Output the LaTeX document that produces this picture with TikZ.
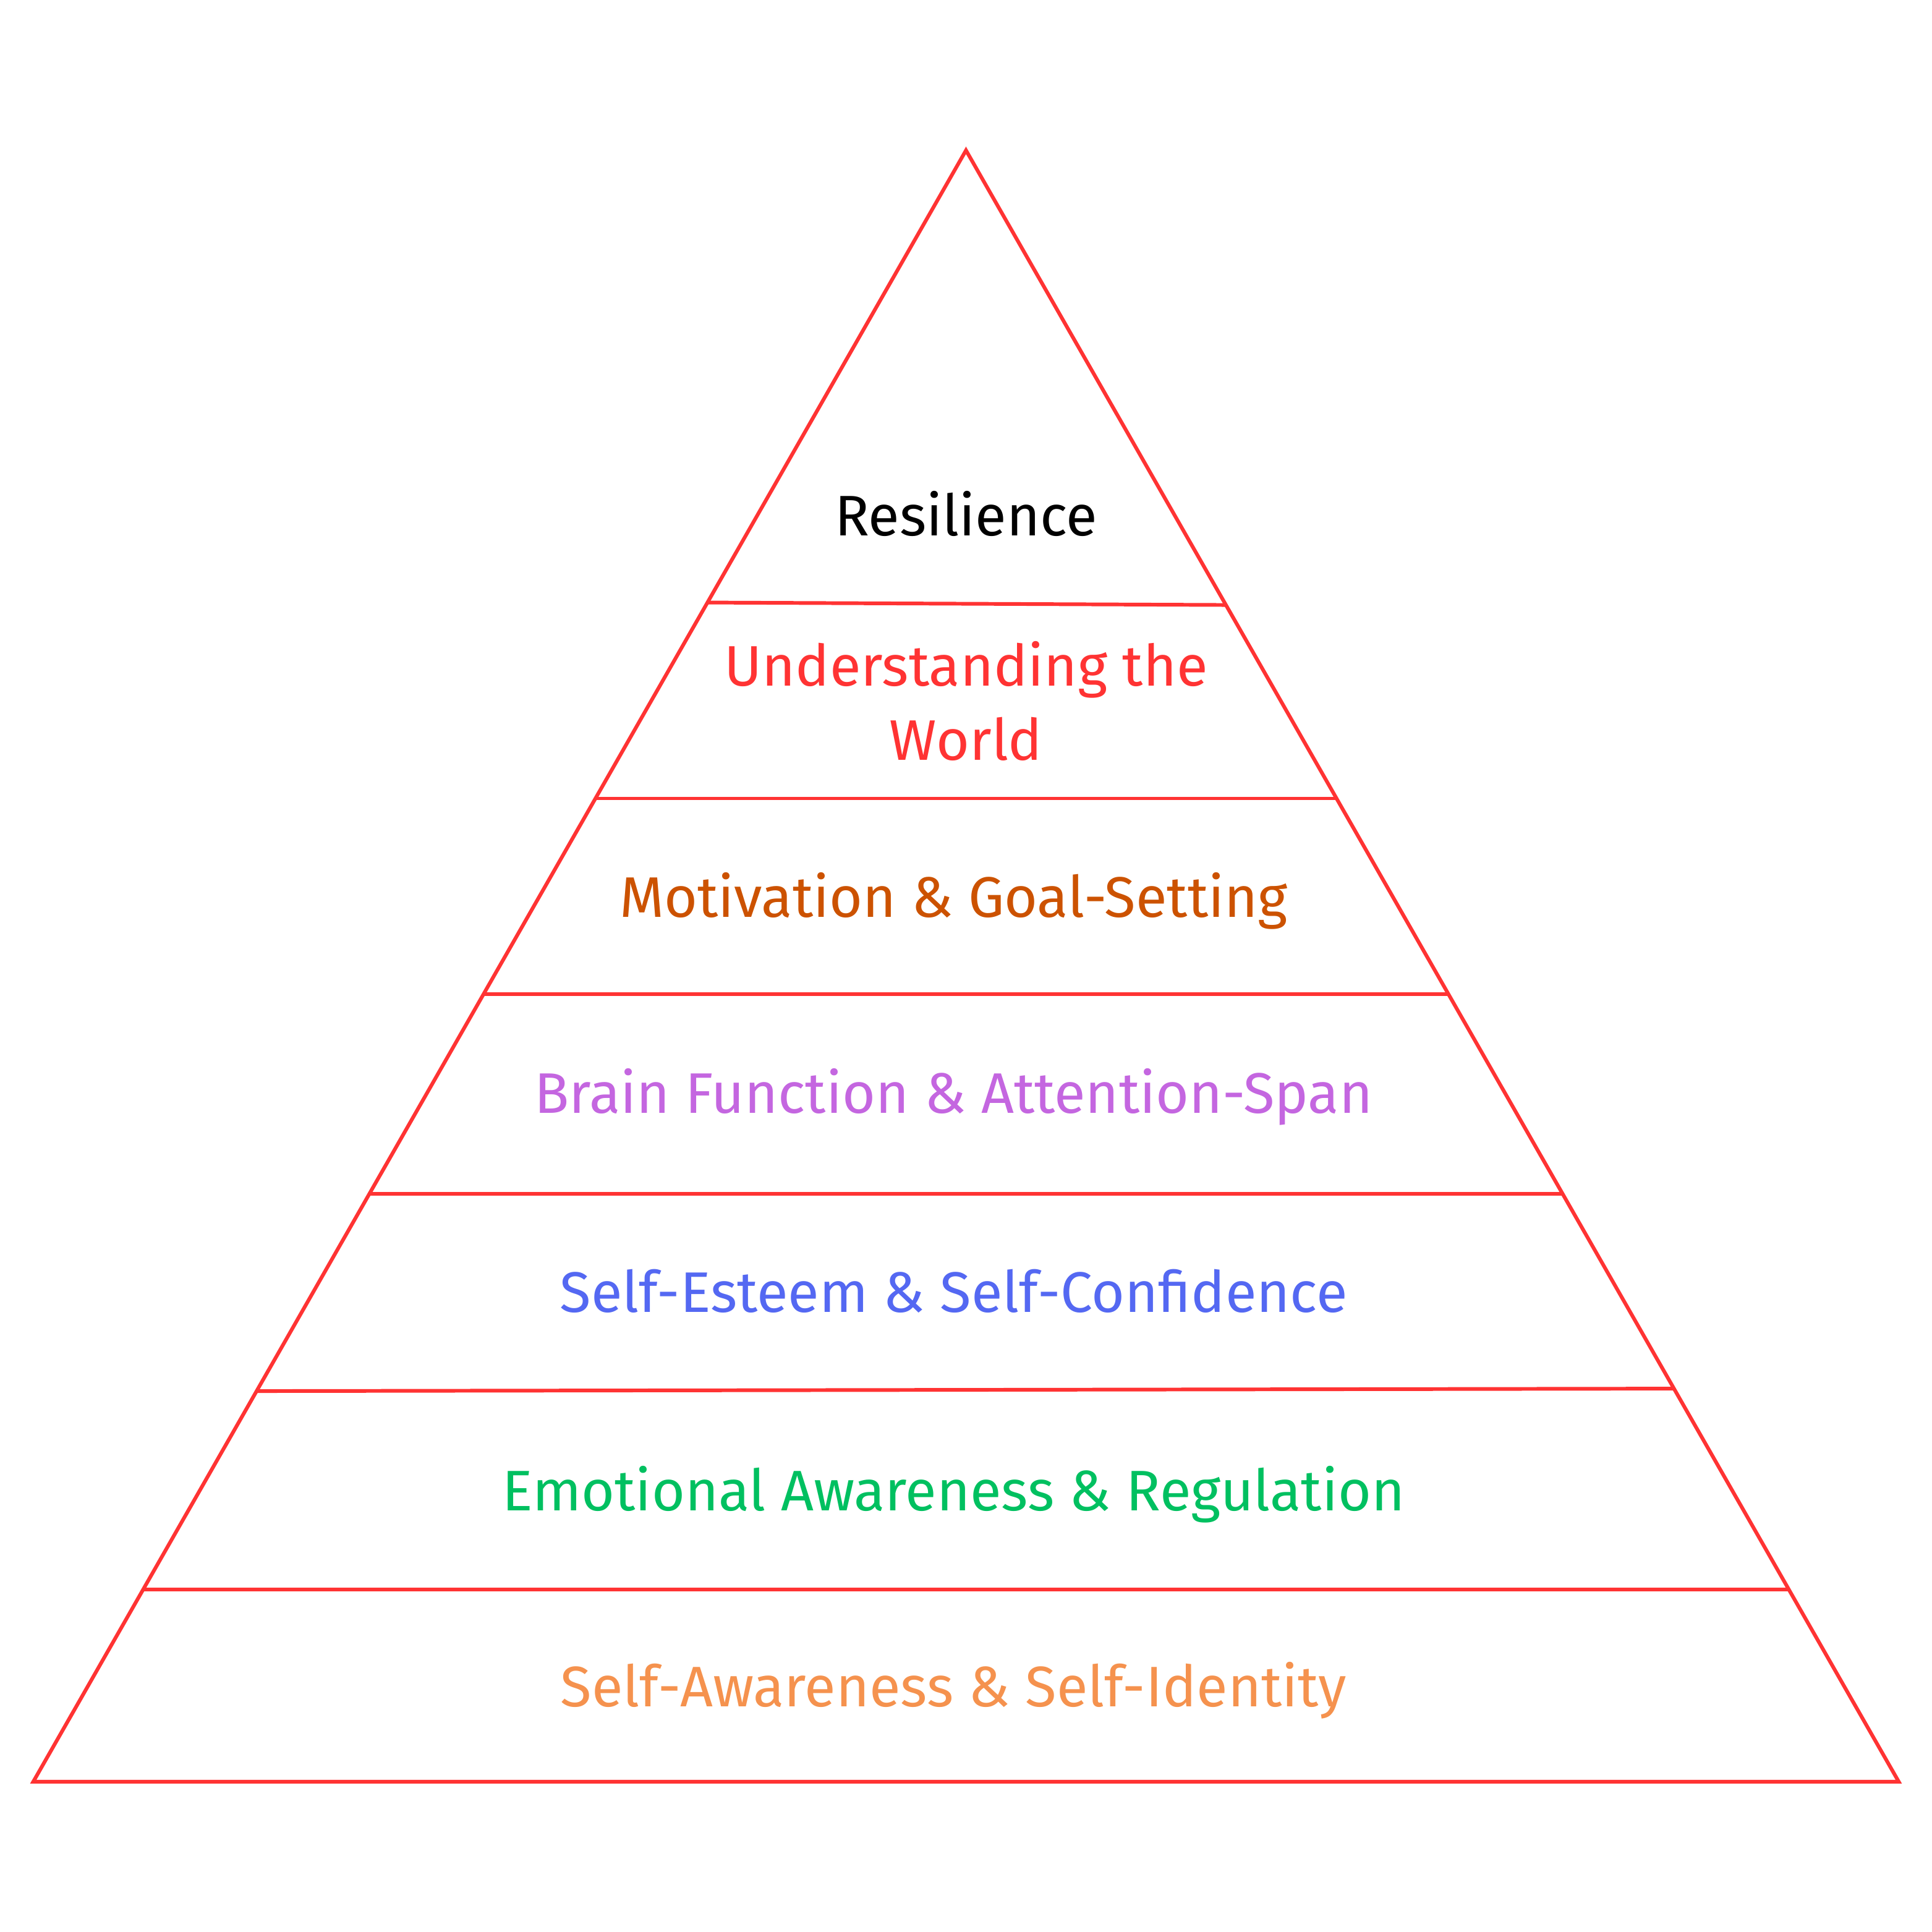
\documentclass[tikz,border=0pt]{standalone}
\usepackage{fontspec}
\setmainfont{Fira Sans}
\usetikzlibrary{calc}
\definecolor{pyred}{HTML}{FF3333}
\definecolor{cmot}{HTML}{CC5200}
\definecolor{cbrain}{HTML}{C466E0}
\definecolor{cself}{HTML}{5468F2}
\definecolor{cemo}{HTML}{00C060}
\definecolor{cid}{HTML}{F5924E}
\tikzset{
  edge/.style={draw=pyred, line width=0.85pt, line join=miter},
  lbl/.style={font=\fontsize{13.2}{17.07}\selectfont, align=center, inner sep=0pt}
}
\begin{document}
\begin{tikzpicture}[x=0.01cm,y=-0.01cm]
\useasboundingbox (0,0) rectangle (1568,1568);
\coordinate (A) at (784,122);
\coordinate (L) at (27,1446);
\coordinate (R) at (1541,1446);
\draw[edge] (A) -- (L) -- (R) -- cycle;
\coordinate (l1) at ($(A)!{367/1324}!(L)$);
\coordinate (r1) at ($(A)!{369/1324}!(R)$);
\coordinate (l2) at ($(A)!{526/1324}!(L)$);
\coordinate (r2) at ($(A)!{526/1324}!(R)$);
\coordinate (l3) at ($(A)!{685/1324}!(L)$);
\coordinate (r3) at ($(A)!{685/1324}!(R)$);
\coordinate (l4) at ($(A)!{847/1324}!(L)$);
\coordinate (r4) at ($(A)!{847/1324}!(R)$);
\coordinate (l5) at ($(A)!{1007/1324}!(L)$);
\coordinate (r5) at ($(A)!{1005/1324}!(R)$);
\coordinate (l6) at ($(A)!{1168/1324}!(L)$);
\coordinate (r6) at ($(A)!{1168/1324}!(R)$);
\draw[edge] (l1) -- (r1);
\draw[edge] (l2) -- (r2);
\draw[edge] (l3) -- (r3);
\draw[edge] (l4) -- (r4);
\draw[edge] (l5) -- (r5);
\draw[edge] (l6) -- (r6);
\node[lbl, text=black] (t1) at (784,417) {Resilience};
\node[lbl, text=pyred] (t2) at (784,569) {Understanding the\\World};
\node[lbl, text=cmot] (t3) at (774,731) {Motivation \& Goal-Setting};
\node[lbl, text=cbrain] (t4) at (774,890) {Brain Function \& Attention-Span};
\node[lbl, text=cself] (t5) at (774,1048) {Self-Esteem \& Self-Confidence};
\node[lbl, text=cemo] (t6) at (774,1213) {Emotional Awareness \& Regulation};
\node[lbl, text=cid] (t7) at (774,1372) {Self-Awareness \& Self-Identity};
\end{tikzpicture}
\end{document}
